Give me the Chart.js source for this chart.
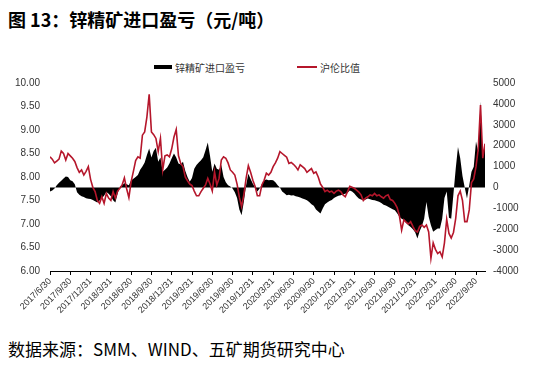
<!DOCTYPE html>
<html>
<head>
<meta charset="utf-8">
<script src="https://cdn.jsdelivr.net/npm/chart.js@4/dist/chart.umd.min.js"></script>
<style>
  body { margin: 0; background: #fff; width: 535px; height: 366px; position: relative; overflow: hidden; }
  #title { position: absolute; left: 8px; top: 6px; font: bold 18px "Noto Sans CJK SC", sans-serif; color: #000; }
  #foot { position: absolute; left: 8px; top: 336px; font: 17px "Noto Sans CJK SC", sans-serif; color: #000; }
  #legend { position: absolute; top: 58px; left: 154px; font: 10px "Noto Sans CJK SC", sans-serif; color: #333; }
  #legend span { display: inline-block; vertical-align: middle; }
  .box { width: 18px; height: 4px; background: #000; margin-right: 3px; }
  .ln { width: 20px; height: 2px; background: #b5162b; margin-right: 3px; margin-left: 52px; }
  #wrap { position: absolute; left: 0; top: 0; width: 535px; height: 322px; }
</style>
</head>
<body>
<div id="title">图 13：锌精矿进口盈亏（元/吨）</div>
<div id="legend"><span class="box"></span><span>锌精矿进口盈亏</span><span class="ln"></span><span>沪伦比值</span></div>
<div id="wrap"><canvas id="myChart"></canvas></div>
<div id="foot">数据来源：SMM、WIND、五矿期货研究中心</div>
<script>
// quarter-end tick labels, one every 3 months from 2017/6/30
const tickLabels = ['2017/6/30', '2017/9/30', '2017/12/31', '2018/3/31', '2018/6/30', '2018/9/30',
    '2018/12/31', '2019/3/31', '2019/6/30', '2019/9/30', '2019/12/31', '2020/3/31', '2020/6/30',
    '2020/9/30', '2020/12/31', '2021/3/31', '2021/6/30', '2021/9/30', '2021/12/31', '2022/3/31',
    '2022/6/30', '2022/9/30'];

// samples every ~10 days (1/3 month) starting 2017/6/30
const profit = [-200, -150, -50, 110, 220, 320, 430, 520, 500, 350,
    300, 150, -230, -350, -420, -460, -520, -540, -550, -600,
    -660, -720, -620, -520, -400, -220, -300, -420, -610, -720,
    -300, 30, 110, 200, 150, 110, 350, 420, 500, 600,
    850, 1000, 1200, 1550, 1870, 1430, 1750, 1900, 1230, 1430,
    750, 850, 950, 1150, 1400, 1630, 1430, 1150, 1100, 1230,
    800, 500, 270, 450, 900, 1070, 1200, 1300, 1450, 1780,
    2150, 1500, 750, 1150, 900, 850, 1070, 500, 250, 110,
    50, -50, -230, -500, -1050, -1330, -690, 100, 650, 400,
    180, 0, -200, -50, 150, 350, 380, 350, 360, 340,
    250, 110, 0, -200, -280, -370, -350, -380, -370, -420,
    -450, -480, -530, -560, -610, -700, -800, -880, -1050, -1150,
    -1250, -1010, -800, -720, -650, -600, -500, -450, -400, -370,
    -330, -300, -250, -150, -200, -290, -420, -530, -580, -610,
    -580, -530, -560, -600, -610, -650, -690, -750, -830, -870,
    -920, -980, -1040, -1090, -1230, -1400, -1500, -1560, -1700, -1810,
    -1890, -2000, -2150, -2440, -2100, -1850, -1500, -700, -1400, -1810,
    -2120, -2040, -1970, -1970, -1500, -500, -200, -1450, -1500, -300,
    900, 1940, 1400, 550, 0, -530, 100, 750, 990, 2200,
    1700, 4100, 1400, 2100];

const ratio = [8.43, 8.38, 8.3, 8.34, 8.38, 8.55, 8.5, 8.36, 8.5, 8.45,
    8.4, 8.33, 8.2, 8.1, 8.15, 8.04, 8.12, 8.22, 7.95, 7.78,
    7.69, 7.5, 7.44, 7.58, 7.44, 7.65, 7.55, 7.5, 7.69, 7.55,
    7.7, 7.76, 7.83, 7.98, 7.75, 7.56, 7.9, 8.12, 8.35, 8.43,
    8.4, 8.89, 8.96, 9.28, 9.76, 8.96, 8.9, 8.82, 8.54, 8.82,
    8.15, 8.45, 8.47, 8.43, 8.6, 8.85, 9.01, 8.45, 8.29, 8.22,
    8.0, 7.92, 7.85, 7.82, 7.7, 7.6, 7.6, 7.69, 7.76, 7.83,
    7.97, 7.85, 7.7, 8.11, 7.83, 7.97, 8.36, 8.43, 8.4, 8.3,
    8.15, 8.1, 8.04, 7.85, 7.57, 7.37, 7.62, 7.97, 8.24, 8.1,
    7.93, 7.8, 7.6, 7.6, 7.83, 7.93, 8.08, 8.04, 8.1, 8.22,
    8.3, 8.4, 8.54, 8.5, 8.46, 8.42, 8.29, 8.31, 8.27, 8.22,
    8.15, 8.26, 8.22, 8.18, 8.1, 8.14, 8.18, 8.08, 8.11, 8.0,
    7.85, 7.78, 7.69, 7.72, 7.68, 7.7, 7.65, 7.7, 7.72, 7.69,
    7.62, 7.58, 7.69, 7.8, 7.78, 7.76, 7.72, 7.68, 7.62, 7.5,
    7.55, 7.58, 7.62, 7.6, 7.65, 7.6, 7.62, 7.58, 7.55, 7.6,
    7.62, 7.52, 7.5, 7.44, 7.35, 7.18, 6.87, 7.09, 7.04, 7.0,
    7.05, 6.95, 6.86, 6.83, 6.95, 6.98, 6.93, 6.98, 6.83, 6.27,
    6.6, 6.46, 6.37, 6.41, 6.3, 6.6, 7.1, 6.8, 6.7, 6.82,
    7.12, 7.6, 7.7, 7.5, 7.05, 7.05, 7.3, 7.88, 7.96, 8.22,
    8.6, 9.53, 8.4, 8.71];

const toPoints = arr => arr.map((v, i) => ({ x: i / 3, y: v }));

const tickFont = { family: 'Liberation Sans', size: 10 };

const ctx = document.getElementById('myChart').getContext('2d');
const myChart = new Chart(ctx, {
    type: 'line',
    data: {
        datasets: [{
            label: '沪伦比值',
            data: toPoints(ratio),
            yAxisID: 'yL',
            borderColor: '#b5162b',
            borderWidth: 1.6,
            fill: false,
            pointRadius: 0,
            lineTension: 0,
            order: 0,
        }, {
            label: '锌精矿进口盈亏',
            data: toPoints(profit),
            yAxisID: 'yR',
            borderWidth: 0,
            backgroundColor: '#000',
            fill: 'origin',
            pointRadius: 0,
            lineTension: 0,
            order: 1,
        }]
    },
    options: {
        responsive: true,
        maintainAspectRatio: false,
        animation: false,
        layout: { padding: { top: 83, left: 0, right: 0, bottom: 0 } },
        plugins: { legend: { display: false }, tooltip: { enabled: false } },
        scales: {
            x: {
                type: 'linear',
                min: 0,
                max: 64.33,
                grid: { drawOnChartArea: false, color: '#000', tickLength: 4 },
                border: { color: '#000' },
                ticks: {
                    stepSize: 3,
                    includeBounds: false,
                    autoSkip: false,
                    minRotation: 45,
                    maxRotation: 45,
                    padding: 1,
                    color: '#333',
                    font: { family: 'Liberation Sans', size: 9 },
                    callback: v => tickLabels[Math.round(v / 3)],
                },
                afterFit: s => { s.height = 322 - 271; },
            },
            yL: {
                position: 'left',
                min: 6,
                max: 10,
                grid: { display: false, drawTicks: false },
                border: { display: false },
                ticks: { stepSize: 0.5, padding: 10, color: '#333', font: tickFont, callback: v => v.toFixed(2) },
                afterFit: s => { s.width = 50; },
            },
            yR: {
                position: 'right',
                min: -4000,
                max: 5000,
                grid: { display: false, drawTicks: false },
                border: { display: false },
                ticks: { stepSize: 1000, padding: 8, color: '#333', font: tickFont, callback: v => String(v) },
                afterFit: s => { s.width = 50; },
            },
        },
    },
});
</script>
</body>
</html>
